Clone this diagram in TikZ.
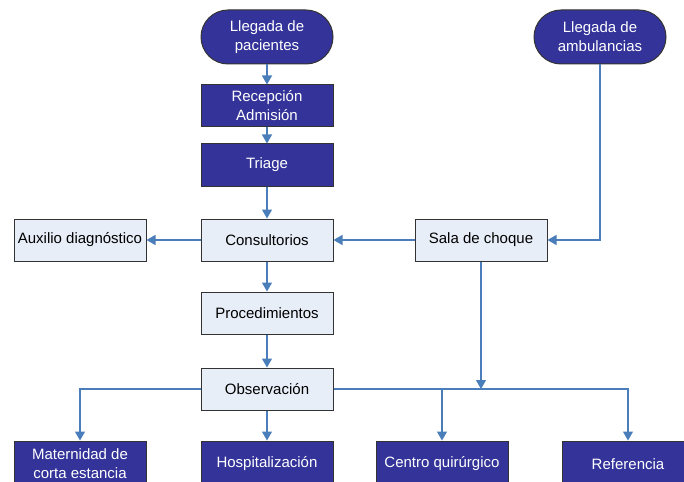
\documentclass[tikz,border=0pt]{standalone}
\usepackage{fontspec}
\setmainfont{Liberation Sans}
\usetikzlibrary{arrows.meta}
\definecolor{darkfill}{HTML}{333399}
\definecolor{lightfill}{HTML}{E8EEF8}
\definecolor{conn}{HTML}{4A7EBB}
\begin{document}
\begin{tikzpicture}[x=1pt,y=-1pt,
  basebox/.style={draw=black!80, line width=1pt, minimum width=132pt, minimum height=42pt,
    inner sep=0pt, align=center, font=\fontsize{15}{19}\selectfont},
  darkbox/.style={basebox, fill=darkfill, text=white},
  lightbox/.style={basebox, fill=lightfill, text=black},
  term/.style={darkbox, rounded corners=27pt, minimum height=54pt},
  bottombox/.style={darkbox, minimum height=46pt},
  arr/.style={draw=conn, line width=1.2pt, -{Triangle[length=9pt,width=10pt]}},
  ln/.style={draw=conn, line width=1.2pt}]
\clip (0,0) rectangle (684,481);
\fill[white] (0,0) rectangle (684,481);

\node[term] (lp) at (267,37) {Llegada de\\pacientes};
\node[term] (la) at (600,37) {Llegada de\\ambulancias};
\node[darkbox] (rec) at (267,106) {Recepción\\Admisión};
\node[darkbox] (tri) at (267,165) {Triage};
\node[lightbox] (con) at (267,240) {Consultorios};
\node[lightbox] (aux) at (80,240) {Auxilio diagnóstico};
\node[lightbox] (sala) at (481,240) {Sala de choque};
\node[lightbox] (proc) at (267,313) {Procedimientos};
\node[lightbox] (obs) at (267,389) {Observación};
\node[bottombox] (mat) at (80,464) {Maternidad de\\corta estancia};
\node[bottombox] (hosp) at (267,464) {Hospitalización};
\node[bottombox] (cq) at (442,464) {Centro quirúrgico};
\node[bottombox] (ref) at (628,464) {Referencia};

\coordinate (j1) at (442,389);
\coordinate (j2) at (481,389);

\draw[arr] (lp) -- (rec);
\draw[arr] (rec) -- (tri);
\draw[arr] (tri) -- (con);
\draw[arr] (con) -- (aux);
\draw[arr] (sala) -- (con);
\draw[arr] (la.south) |- (sala.east);
\draw[arr] (con) -- (proc);
\draw[arr] (proc) -- (obs);
\draw[arr] (obs) -- (hosp);
\draw[arr] (obs.west) -| (mat.north);
\draw[arr] (obs.east) -| (ref.north);
\draw[arr] (j1) -- (cq.north);
\draw[arr] (sala.south) -- (j2);
\end{tikzpicture}
\end{document}
